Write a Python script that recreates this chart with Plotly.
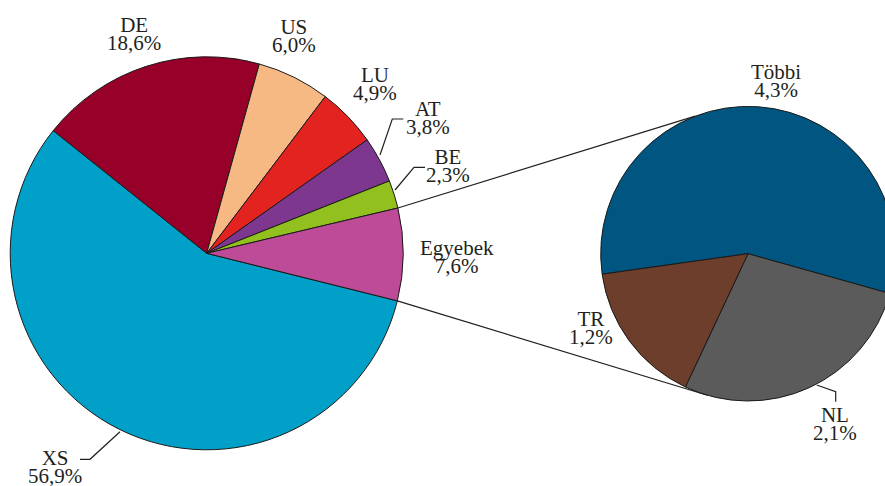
import math
import plotly.graph_objects as go

# ---------------- data ----------------
main_labels = ["XS", "DE", "US", "LU", "AT", "BE", "Egyebek"]
main_values = [56.9, 18.6, 6.0, 4.9, 3.8, 2.3, 7.6]
sub_labels = ["Többi", "NL", "TR"]
sub_values = [4.3, 2.1, 1.2]

# ---------------- styles ----------------
main_colors = ["#00a0c8", "#970029", "#f7b984", "#e32320", "#7e378e", "#92c01f", "#be4b97"]
sub_colors = ["#005681", "#5b5b5b", "#6d3e2c"]
TEXT = "#231f20"
FONT = "Liberation Serif"
FS = 21            # glyph size
LINE_FS = 14.08    # base size -> line spacing 1.3 * 14.08 = 18.3 px

# figure is slightly wider than the 885px window so the secondary pie is cut at the edge
W, H = 900, 486

def px(x):
    return x / W

def py(y):
    return 1 - y / H

# pie geometry in screen pixels (left, top, right, bottom)
MAIN_BOX = (10.2, 56.8, 403.2, 449.8)
SUB_BOX = (600.7, 106.4, 895.3, 401.0)
MAIN_ROT = 104
SUB_ROT = -98

fig = go.Figure()
fig.add_trace(go.Pie(
    labels=main_labels, values=main_values, sort=False, direction="clockwise",
    rotation=MAIN_ROT, textinfo="none", hoverinfo="label+percent",
    marker=dict(colors=main_colors, line=dict(color="#1a1a1a", width=1)),
    domain=dict(x=[px(MAIN_BOX[0]), px(MAIN_BOX[2])], y=[py(MAIN_BOX[3]), py(MAIN_BOX[1])]),
    showlegend=False,
))
fig.add_trace(go.Pie(
    labels=sub_labels, values=sub_values, sort=False, direction="clockwise",
    rotation=SUB_ROT, textinfo="none", hoverinfo="label+value",
    marker=dict(colors=sub_colors, line=dict(color="#1a1a1a", width=1)),
    domain=dict(x=[px(SUB_BOX[0]), px(SUB_BOX[2])], y=[py(SUB_BOX[3]), py(SUB_BOX[1])]),
    showlegend=False,
))

def fmt(v):
    return f"{v:.1f}".replace(".", ",") + "%"

# label positions: (x-center, baseline of first line) in screen pixels
label_pos = {
    "XS": (55.0, 465.0),
    "DE": (133.9, 31.7),
    "US": (294.2, 34.0),
    "LU": (374.8, 81.7),
    "AT": (428.0, 115.5),
    "BE": (448.0, 164.3),
    "Egyebek": (456.5, 255.0),
    "Többi": (776.0, 79.3),
    "TR": (591.0, 326.0),
    "NL": (835.3, 421.7),
}

def big(s):
    return f'<span style="font-size:{FS}px">{s}</span>'

annotations = []
for labs, vals in ((main_labels, main_values), (sub_labels, sub_values)):
    for lab, val in zip(labs, vals):
        x, b = label_pos[lab]
        annotations.append(dict(
            x=px(x), y=py(b + 2.0), xref="paper", yref="paper",
            text=big(lab) + "<br>" + big(fmt(val)),
            showarrow=False, xanchor="center", yanchor="middle", align="center",
            font=dict(family=FONT, size=LINE_FS, color=TEXT),
        ))

# leader lines for labels (screen pixels)
leaders = [
    [(80, 459.3), (90, 459.3), (120, 431.7)],
    [(380, 155), (392.3, 119), (403.3, 119)],
    [(395, 190), (414, 167.3), (425, 167.3)],
    [(816.7, 385), (835.7, 391.7), (835.7, 401.7)],
]
shapes = []
for pts in leaders:
    path = "M " + " L ".join(f"{px(x)},{py(y)}" for x, y in pts)
    shapes.append(dict(type="path", xref="paper", yref="paper", path=path,
                       line=dict(color=TEXT, width=1.2)))

# connector lines between the Egyebek slice and the secondary pie
def pie_point(box, clock_deg):
    l, t, r, b = box
    cx, cy = (l + r) / 2, (t + b) / 2
    rad = min(r - l, b - t) / 2
    a = math.radians(clock_deg)
    return cx + rad * math.sin(a), cy - rad * math.cos(a)

tot = sum(main_values)
egy_start = MAIN_ROT + 360 * (tot - main_values[-1]) / tot
egy_end = MAIN_ROT + 360
p_top_main = pie_point(MAIN_BOX, egy_start)
p_bot_main = pie_point(MAIN_BOX, egy_end)
p_top_sub = pie_point(SUB_BOX, 90 - 111)
p_bot_sub = pie_point(SUB_BOX, 90 + 106)
for a, b in ((p_top_main, p_top_sub), (p_bot_main, p_bot_sub)):
    shapes.append(dict(type="line", xref="paper", yref="paper",
                       x0=px(a[0]), y0=py(a[1]), x1=px(b[0]), y1=py(b[1]),
                       line=dict(color=TEXT, width=1.2)))

fig.update_layout(
    width=W, height=H, margin=dict(l=0, r=0, t=0, b=0),
    paper_bgcolor="white", plot_bgcolor="white",
    annotations=annotations, shapes=shapes, showlegend=False,
)
fig.write_html(
    "out.html",
    config={"displayModeBar": False},
    post_script="document.body.style.margin='0';document.body.style.overflow='hidden';",
)
